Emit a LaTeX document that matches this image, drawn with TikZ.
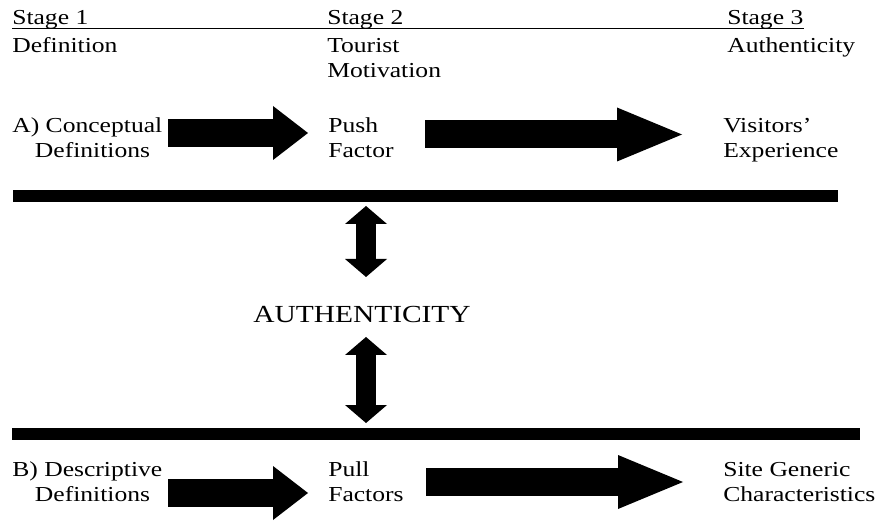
\documentclass[tikz,border=0pt]{standalone}
\usepackage{fontspec}
\setmainfont{Liberation Serif}[FakeStretch=1.2]
\usetikzlibrary{arrows.meta}

\begin{document}
\begin{tikzpicture}[x=0.75pt, y=-0.75pt,
    txt/.style={anchor=base west, inner sep=0pt, align=left,
        font=\fontsize{16pt}{18.75pt}\selectfont},
    blockarrow/.style={line width=21pt,
        -{Triangle[length=#1 0 0, width=40.5pt 0 0, line width=0pt]}},
    twoway/.style={line width=15pt,
        {Triangle[length=13.5pt 0 0, width=31.5pt 0 0, line width=0pt]}-{Triangle[length=13.5pt 0 0, width=31.5pt 0 0, line width=0pt]}},
    bar/.style={line width=9pt}]
    \useasboundingbox (0,0) rectangle (877,523);
    % Stages (base of a two-line node = its last line)
    \node [txt] (stage1) at (12,25) {Stage 1};
    \node [txt] (stage2) at (327,25) {Stage 2};
    \node [txt] (stage3) at (727,25) {Stage 3};
    \draw [line width=1.1pt] ([yshift=-2.5pt]stage1.base west) -- ([yshift=-2.5pt]stage3.base east);
    \node [txt] (defn) at (12,53) {Definition};
    \node [txt] (motiv) at (327,78) {Tourist\\Motivation};
    \node [txt] (authc) at (727,53) {Authenticity};
    % Row A
    \node [txt] (concA) at (12,158) {A) Conceptual\\\hspace*{17pt}Definitions};
    \node [txt] (push) at (328,158) {Push\\Factor};
    \node [txt] (visit) at (723,158) {Visitors'\\Experience};
    \coordinate (a1s) at (168,133);
    \coordinate (a1e) at (308,133);
    \coordinate (a2s) at (425,134.5);
    \coordinate (a2e) at (682,134.5);
    \draw [blockarrow=26.25pt] (a1s) -- (a1e);
    \draw [blockarrow=48.75pt] (a2s) -- (a2e);
    % Bars
    \coordinate (b1w) at (13,196);
    \coordinate (b1e) at (838,196);
    \coordinate (b2w) at (12,434);
    \coordinate (b2e) at (860,434);
    \draw [bar] (b1w) -- (b1e);
    \draw [bar] (b2w) -- (b2e);
    % Middle
    \node [inner sep=0pt, font=\fontsize{18.4pt}{22pt}\selectfont] (auth) at (362,314) {AUTHENTICITY};
    \coordinate (d1t) at (366,206);
    \coordinate (d1b) at (366,277);
    \coordinate (d2t) at (366,337);
    \coordinate (d2b) at (366,423);
    \draw [twoway] (d1t) -- (d1b);
    \draw [twoway] (d2t) -- (d2b);
    % Row B
    \node [txt] (descB) at (12,501) {B) Descriptive\\\hspace*{17pt}Definitions};
    \node [txt] (pull) at (328,501) {Pull\\Factors};
    \node [txt] (site) at (723,501) {Site Generic\\Characteristics};
    \coordinate (b1s) at (168,493);
    \coordinate (b1t) at (308,493);
    \coordinate (b2s) at (426,482);
    \coordinate (b2t) at (683,482);
    \draw [blockarrow=26.25pt] (b1s) -- (b1t);
    \draw [blockarrow=48.75pt] (b2s) -- (b2t);
\end{tikzpicture}
\end{document}
